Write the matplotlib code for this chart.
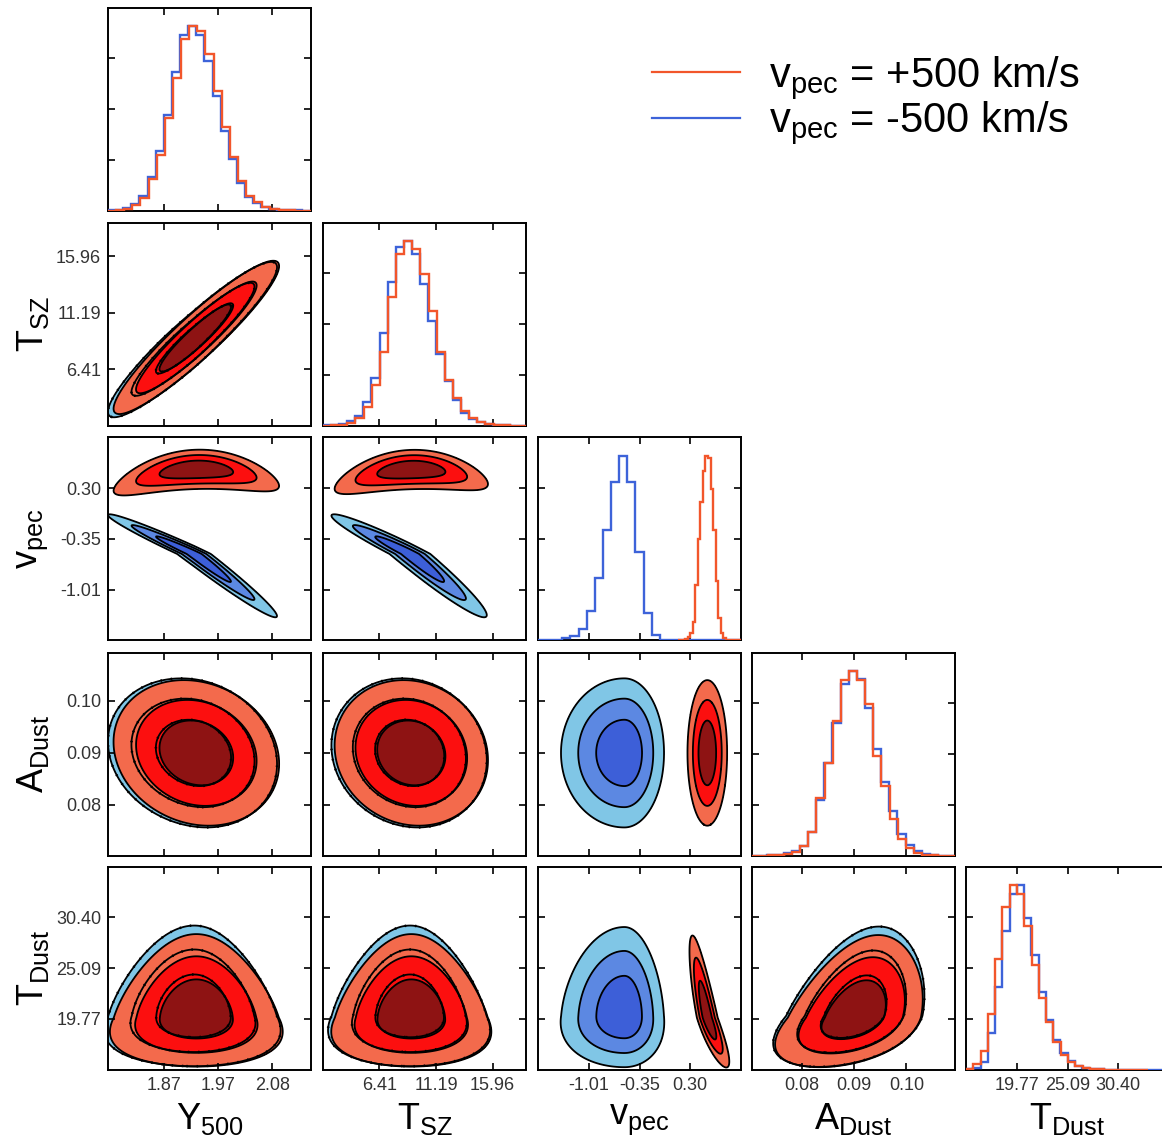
import numpy as np
import matplotlib
matplotlib.use('Agg')
import matplotlib.pyplot as plt
from matplotlib.lines import Line2D

plt.rcParams['font.family'] = ['Liberation Sans', 'DejaVu Sans']
plt.rcParams['mathtext.fontset'] = 'custom'
plt.rcParams['mathtext.rm'] = 'Liberation Sans'
plt.rcParams['mathtext.it'] = 'Liberation Sans:italic'

# --- parameters / axes ---
names = [r'$\mathrm{Y}_{500}$', r'$\mathrm{T}_{\mathrm{SZ}}$', r'$\mathrm{v}_{\mathrm{pec}}$',
         r'$\mathrm{A}_{\mathrm{Dust}}$', r'$\mathrm{T}_{\mathrm{Dust}}$']
tick_labels = [['1.87', '1.97', '2.08'], ['6.41', '11.19', '15.96'], ['-1.01', '-0.35', '0.30'],
               ['0.08', '0.09', '0.10'], ['19.77', '25.09', '30.40']]
tick_first = [1.87, 6.41, -1.01, 0.08, 19.77]
tick_last = [2.08, 15.96, 0.30, 0.10, 30.40]
lim_lo = [1.762, 1.64, -1.665, 0.07025, 14.455]
lim_hi = [2.155, 18.79, 0.955, 0.10925, 35.715]

# --- 1D histograms (normalised to peak) ---
hist_red = [
    [0, 0.002, 0.01, 0.03, 0.07, 0.17, 0.30, 0.50, 0.72, 0.93, 1.0, 0.97, 0.85, 0.65, 0.45, 0.29, 0.16, 0.08, 0.045, 0.02, 0.01, 0.005, 0.002, 0, 0],
    [0, 0.002, 0.005, 0.015, 0.04, 0.10, 0.22, 0.40, 0.70, 0.93, 1.0, 0.96, 0.82, 0.62, 0.40, 0.25, 0.15, 0.08, 0.04, 0.02, 0.01, 0.005, 0.002, 0, 0],
    [0, 0, 0, 0.005, 0.02, 0.04, 0.10, 0.30, 0.55, 0.75, 0.92, 1.0, 0.99, 0.82, 0.60, 0.32, 0.12, 0.04, 0.01, 0.003, 0, 0, 0, 0, 0],
    [0, 0, 0.002, 0.004, 0.01, 0.02, 0.05, 0.13, 0.31, 0.50, 0.73, 0.95, 1.0, 0.95, 0.82, 0.54, 0.38, 0.20, 0.09, 0.04, 0.015, 0.005, 0.002, 0, 0],
    [0.005, 0.03, 0.10, 0.30, 0.60, 0.88, 1.0, 0.95, 0.78, 0.57, 0.39, 0.26, 0.15, 0.08, 0.04, 0.02, 0.01, 0.005, 0.002, 0.001, 0, 0, 0, 0, 0],
]
hist_blue = [
    [0.003, 0.005, 0.012, 0.035, 0.08, 0.18, 0.32, 0.52, 0.75, 0.95, 1.0, 0.95, 0.81, 0.62, 0.43, 0.28, 0.15, 0.075, 0.04, 0.02, 0.008, 0.004, 0.002, 0.001, 0],
    [0.002, 0.004, 0.008, 0.025, 0.055, 0.13, 0.26, 0.50, 0.78, 0.97, 1.0, 0.93, 0.77, 0.57, 0.39, 0.24, 0.14, 0.07, 0.035, 0.02, 0.01, 0.004, 0.002, 0.001, 0],
    [0, 0, 0.002, 0.01, 0.025, 0.06, 0.16, 0.34, 0.60, 0.86, 1.0, 0.86, 0.48, 0.15, 0.03, 0.003, 0, 0, 0, 0, 0, 0, 0, 0, 0],
    [0, 0.001, 0.002, 0.005, 0.012, 0.025, 0.055, 0.13, 0.30, 0.50, 0.72, 0.93, 1.0, 0.96, 0.80, 0.58, 0.40, 0.24, 0.12, 0.06, 0.025, 0.01, 0.004, 0.001, 0],
    [0.002, 0.01, 0.04, 0.20, 0.45, 0.75, 0.95, 1.0, 0.82, 0.62, 0.42, 0.27, 0.16, 0.09, 0.045, 0.02, 0.01, 0.005, 0.003, 0.001, 0, 0, 0, 0, 0, 0, 0, 0],
]
hist_red_lo = [1.762, 1.64, 0.136, 0.07025, 14.455]
hist_red_hi = [2.155, 18.79, 0.955, 0.10925, 33.52]
hist_blue_lo = [1.760, 1.62, -1.665, 0.0702, 14.455]
hist_blue_hi = [2.153, 18.77, 0.955, 0.1092, 35.715]

# --- 2D posterior shapes (centre, split widths, correlations) ---
mean_red = [1.933, 9.1, 0.52, 0.0900, 19.9]
sig_lo_red = [0.047, 1.9, 0.075, 0.0041, 1.55]
sig_hi_red = [0.047, 1.9, 0.075, 0.0041, 2.5]
mean_blue = [1.929, 9.0, -0.55, 0.0900, 20.1]
sig_lo_blue = [0.049, 1.95, 0.24, 0.0042, 1.6]
sig_hi_blue = [0.047, 1.9, 0.15, 0.0042, 2.7]
rho_red = {(0, 1): 0.93, (0, 2): 0.12, (0, 3): -0.15, (0, 4): 0.0, (1, 2): 0.12,
           (1, 3): -0.1, (1, 4): 0.0, (2, 3): 0.0, (2, 4): -0.85, (3, 4): 0.4}
rho_blue = {(0, 1): 0.93, (0, 2): -0.98, (0, 3): -0.15, (0, 4): 0.0, (1, 2): -0.965,
            (1, 3): -0.1, (1, 4): 0.0, (2, 3): 0.0, (2, 4): 0.0, (3, 4): 0.4}
bend_red = {(0, 2): -0.28, (1, 2): -0.25}
taper = {(0, 4): 0.1, (1, 4): 0.1, (3, 4): 0.06, (2, 4): 0.04}

red_line, blue_line = '#f2562b', '#3d63d9'
red_fill = ['#f36a4c', '#fc0f0f', '#8e1313']
blue_fill = ['#80c6e6', '#5c88e2', '#3d5fd8']

W, H = 1162, 1141
col_left = [108, 323, 538, 751.5, 966]
row_top = [7.5, 222.7, 437.3, 652.7, 866.7]
size = 203


def split_u(v, m, slo, shi):
    return (v - m) / np.where(v < m, slo, shi)


def density(i, j, mean, slo, shi, rho, bend, k):
    x = np.linspace(mean[i] - 6 * slo[i], mean[i] + 6 * shi[i], 400)
    y = np.linspace(mean[j] - 6 * slo[j], mean[j] + 6 * shi[j], 400)
    X, Y = np.meshgrid(x, y)
    xu = split_u(X, mean[i], slo[i], shi[i])
    yu = split_u(Y, mean[j], slo[j], shi[j])
    xt = xu * np.exp(k * yu)
    yt = yu - bend * (xt ** 2 - 1)
    q = (xt ** 2 - 2 * rho * xt * yt + yt ** 2) / (1 - rho ** 2)
    Z = np.exp(-0.5 * q) * np.exp(k * yu)
    return X, Y, Z


def hpd_levels(Z, masses=(0.997, 0.954, 0.683)):
    z = np.sort(Z.ravel())[::-1]
    c = np.cumsum(z)
    c /= c[-1]
    return [z[np.searchsorted(c, m)] for m in masses]


def draw_2d(ax, i, j, mean, slo, shi, rho, bend, fills, dotted=False):
    X, Y, Z = density(i, j, mean, slo, shi, rho.get((i, j), 0.0), bend.get((i, j), 0.0),
                      taper.get((i, j), 0.0))
    lv = hpd_levels(Z)
    if dotted:
        cs = ax.contour(X, Y, Z, levels=lv, colors='k', linewidths=1.8)
        cs.set_linestyle((0, (0.6, 3.5)))
        return
    ax.contourf(X, Y, Z, levels=lv + [Z.max() * 1.1], colors=fills)
    ax.contour(X, Y, Z, levels=lv, colors='k', linewidths=1.3)


fig = plt.figure(figsize=(W / 100, H / 100), dpi=100)

for r in range(5):
    for c in range(r + 1):
        ax = fig.add_axes([col_left[c] / W, 1 - (row_top[r] + size) / H, size / W, size / H])
        ax.set_xlim(lim_lo[c], lim_hi[c])
        ax.set_xticks(np.linspace(tick_first[c], tick_last[c], 3))
        if r == c:
            nb = len(hist_blue[c])
            ax.stairs(hist_blue[c], np.linspace(hist_blue_lo[c], hist_blue_hi[c], nb + 1),
                      color=blue_line, lw=1.7, zorder=3)
            nr = len(hist_red[c])
            ax.stairs(hist_red[c], np.linspace(hist_red_lo[c], hist_red_hi[c], nr + 1),
                      color=red_line, lw=1.7, zorder=3)
            ax.set_ylim(0, 1.1)
            ax.set_yticks([0.275, 0.55, 0.825])
            ax.set_yticklabels([])
        else:
            ax.set_ylim(lim_lo[r], lim_hi[r])
            draw_2d(ax, c, r, mean_blue, sig_lo_blue, sig_hi_blue, rho_blue, {}, blue_fill)
            draw_2d(ax, c, r, mean_red, sig_lo_red, sig_hi_red, rho_red, bend_red, red_fill)
            if c != 2 and r != 2:
                draw_2d(ax, c, r, mean_blue, sig_lo_blue, sig_hi_blue, rho_blue, {}, blue_fill,
                        dotted=True)
            ax.set_yticks(np.linspace(tick_first[r], tick_last[r], 3))
            if c == 0:
                ax.set_yticklabels(tick_labels[r])
                ax.text(-0.37, 0.5, names[r], transform=ax.transAxes, rotation=90,
                        ha='center', va='center', fontsize=26)
            else:
                ax.set_yticklabels([])
        if r == 4:
            ax.set_xticklabels(tick_labels[c])
            ax.text(0.5, -0.245, names[c], transform=ax.transAxes,
                    ha='center', va='center', fontsize=26)
        else:
            ax.set_xticklabels([])
        ax.tick_params(direction='in', top=True, right=True, length=5, width=1.2,
                       labelsize=13, labelcolor='#333333', pad=5)
        for sp in ax.spines.values():
            sp.set_linewidth(1.4)

handles = [Line2D([], [], color=red_line, lw=1.6), Line2D([], [], color=blue_line, lw=1.6)]
labels = [r'$\mathrm{v}_{\mathrm{pec}}$ = +500 km/s', r'$\mathrm{v}_{\mathrm{pec}}$ = -500 km/s']
fig.legend(handles, labels, loc='upper left', bbox_to_anchor=(652 / W, 1 - 54 / H),
           frameon=False, fontsize=30, handlelength=2.1, handletextpad=0.7,
           labelspacing=-0.05, borderpad=0, borderaxespad=0)

fig.savefig('out.png', dpi=100)
